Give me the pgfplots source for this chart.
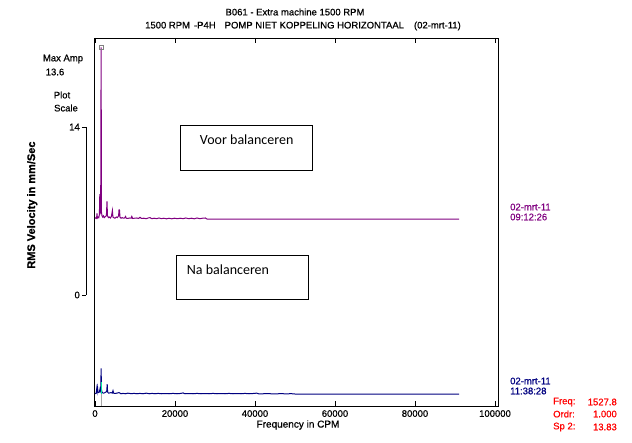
\documentclass[border=0pt]{standalone}
\usepackage{fontspec}
\setmainfont{Liberation Sans}[FakeBold=0.6]
\newfontfamily\calibri{Carlito}
\usepackage{pgfplots}
\pgfplotsset{compat=1.18}
\definecolor{specpurple}{RGB}{128,0,128}
\definecolor{specblue}{RGB}{0,0,128}
\definecolor{cursorgreen}{RGB}{0,235,160}
\definecolor{annred}{RGB}{255,0,0}

\begin{document}
\begin{tikzpicture}
\path[use as bounding box] (-94pt,-36pt) rectangle (538pt,406pt);
\begin{axis}[
  at={(0pt,0pt)}, anchor=south west,
  scale only axis, width=404pt, height=368pt,
  xmin=-250, xmax=100750, ymin=-9.25, ymax=21.42,
  axis line style={line width=0.8pt},
  xtick={0,20000,40000,60000,80000,100000},
  xticklabels={0,20000,40000,60000,80000,100000},
  scaled x ticks=false,
  ytick=\empty,
  tick align=inside, major tick length=5pt,
  tick style={black, line width=0.6pt},
  xticklabel style={font=\fontsize{9.5}{10}\selectfont, inner sep=0pt, yshift=-4pt},
  xlabel={Frequency in CPM},
  xlabel style={font=\fontsize{10}{12}\selectfont, at={(axis description cs:0.505,-0.0516)}, anchor=center},
  ylabel={RMS Velocity in mm/Sec},
  ylabel style={font=\bfseries\fontsize{11}{12}\selectfont, at={(axis description cs:-0.153,0.546)}, anchor=center},
  clip=false,
]
% before balancing (purple), shifted up to its baseline
\addplot[specpurple, line width=1pt, sharp plot, y filter/.expression={y+6.30}] coordinates {
(0,0.08) (250,0.15) (400,0.1) (500,0.5) (600,0.12) (800,0.2) (950,0.15) (1100,0.4) (1200,2.1) (1280,0.5)
(1420,0.6) (1528,14.33) (1620,0.6) (1750,0.3) (1900,0.2) (2100,0.3) (2300,0.15) (2600,0.25) (2850,0.3)
(3000,1.5) (3120,0.3) (3350,0.15) (3600,0.2) (3850,0.12) (4100,0.25) (4350,0.75) (4480,0.2) (4700,0.15)
(5000,0.1) (5300,0.2) (5600,0.15) (5900,0.3) (6000,0.8) (6120,0.8) (6250,0.2) (6500,0.1) (6800,0.15)
(7100,0.1) (7400,0.12) (7650,0.25) (7800,0.1) (8200,0.08) (8600,0.12) (9000,0.1) (9200,0.25) (9400,0.08)
(9900,0.1) (10400,0.12) (10900,0.08) (11250,0.18) (11600,0.08) (12200,0.1) (12800,0.06) (13300,0.12)
(13750,0.15) (14200,0.06) (14800,0.1) (15400,0.06) (16000,0.12) (16600,0.06) (17200,0.1) (17900,0.05)
(18500,0.1) (19200,0.05) (19900,0.1) (20600,0.06) (21300,0.1) (22000,0.06) (22700,0.12) (23400,0.06)
(24100,0.1) (24800,0.05) (25500,0.12) (26200,0.06) (26900,0.1) (27600,0.12) (28000,0.03) (91000,0.03)
};
% after balancing (blue)
\addplot[specblue, line width=1pt, sharp plot, y filter/.expression={y-8.28}] coordinates {
(0,0.05) (300,0.1) (450,0.5) (550,0.25) (650,0.55) (750,0.2) (900,0.15) (1100,0.2) (1250,0.45) (1350,0.3)
(1450,0.5) (1528,2.17) (1620,0.4) (1750,0.2) (1950,0.12) (2200,0.1) (2500,0.15) (2800,0.2) (2950,0.3)
(3050,0.85) (3150,0.2) (3400,0.1) (3700,0.12) (4000,0.15) (4300,0.1) (4500,0.3) (4650,0.1) (5000,0.08)
(5500,0.1) (6000,0.15) (6500,0.05) (7000,0.08) (7600,0.05) (8200,0.1) (9000,0.06) (9800,0.08) (10500,0.05)
(11200,0.08) (12000,0.05) (12800,0.1) (13600,0.05) (14300,0.08) (15000,0.05) (15800,0.08) (16600,0.05)
(17500,0.07) (18500,0.05) (19500,0.08) (20500,0.05) (21500,0.08) (22000,0.12) (22500,0.05) (23500,0.07)
(24500,0.05) (25500,0.08) (26500,0.05) (27500,0.07) (28500,0.05) (29500,0.08) (30500,0.05) (31500,0.07)
(32500,0.05) (33500,0.08) (34500,0.05) (35500,0.07) (36500,0.05) (37500,0.08) (38500,0.05) (39500,0.07)
(40400,0.1) (41000,0.04) (43000,0.06) (45000,0.04) (46500,0.06) (48000,0.04) (49000,0.06) (50000,0.03)
(91000,0.03)
};
% cursor
\addplot[cursorgreen, line width=1pt, y filter/.expression={y-8.28}] coordinates {(1528,0.03) (1528,1.0)};
\addplot[gray!70, line width=0.7pt] coordinates {(1528,-9.25) (1528,-8.25)};
\addplot[only marks, mark=square, mark size=2.2pt, gray, mark options={line width=0.5pt}] coordinates {(1528,20.63)};
\end{axis}

\begin{scope}[x=1pt,y=-1pt,shift={(-94pt,406pt)}, every node/.style={inner sep=0pt}]
  \node[font=\fontsize{9.5}{10}\selectfont] at (295,12) {B061 - Extra machine 1500 RPM};
  \node[font=\fontsize{9.5}{10}\selectfont] at (303,26)
    {1500 RPM\hspace{4pt}-P4H\hspace{9pt}POMP NIET KOPPELING HORIZONTAAL\hspace{10pt}(02-mrt-11)};
  \node[font=\fontsize{9.5}{10}\selectfont] at (63,59) {Max Amp};
  \node[font=\fontsize{9.5}{10}\selectfont] at (55,72) {13.6};
  \node[font=\fontsize{9.5}{10}\selectfont] at (62,95) {Plot};
  \node[font=\fontsize{9.5}{10}\selectfont] at (66,108) {Scale};
  % plot scale bar
  \draw[line width=0.8pt] (86,127) -- (86,295);
  \draw[line width=0.8pt] (82,127) -- (86,127) (82,295) -- (86,295);
  \node[font=\fontsize{9.5}{10}\selectfont, anchor=east] at (80,127) {14};
  \node[font=\fontsize{9.5}{10}\selectfont, anchor=east] at (80,295) {0};
  % spectrum stamps
  \node[specpurple, font=\fontsize{9.5}{10}\selectfont, anchor=west] at (510,207) {02-mrt-11};
  \node[specpurple, font=\fontsize{9.5}{10}\selectfont, anchor=west] at (510,217) {09:12:26};
  \node[specblue, font=\fontsize{9.5}{10}\selectfont, anchor=west] at (510,381) {02-mrt-11};
  \node[specblue, font=\fontsize{9.5}{10}\selectfont, anchor=west] at (510,391) {11:38:28};
  % cursor readout
  \node[annred, font=\fontsize{9.5}{10}\selectfont, anchor=west] at (553,402) {Freq:};
  \node[annred, font=\fontsize{9.5}{10}\selectfont, anchor=east] at (617,402) {1527.8};
  \node[annred, font=\fontsize{9.5}{10}\selectfont, anchor=west] at (553,414) {Ordr:};
  \node[annred, font=\fontsize{9.5}{10}\selectfont, anchor=east] at (617,414) {1.000};
  \node[annred, font=\fontsize{9.5}{10}\selectfont, anchor=west] at (553,427) {Sp 2:};
  \node[annred, font=\fontsize{9.5}{10}\selectfont, anchor=east] at (617,427) {13.83};
  % text boxes
  \draw[line width=0.8pt] (180.7,125) rectangle (312.7,170);
  \node[font=\calibri\fontsize{14}{16}\selectfont] at (246.7,140) {Voor balanceren};
  \draw[line width=0.8pt] (176.7,255.7) rectangle (308.3,299.3);
  \node[font=\calibri\fontsize{14}{16}\selectfont, anchor=west] at (186.7,270) {Na balanceren};
\end{scope}
\end{tikzpicture}
\end{document}
